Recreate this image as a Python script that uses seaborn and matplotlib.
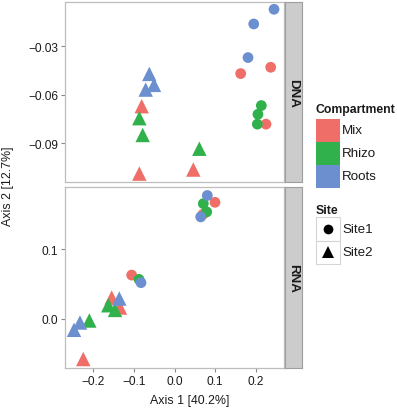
import pandas as pd
import matplotlib
matplotlib.use("Agg")
import matplotlib.pyplot as plt
import seaborn as sns
from matplotlib.patches import Rectangle

sns.set_theme(style="white")
plt.rcParams["font.family"] = ["Liberation Sans", "DejaVu Sans"]

# ---- data ----
compartments = ["Mix", "Rhizo", "Roots"]
colors = ["#EF6F68", "#30B14B", "#6B8FCF"]

dna_site = ["Site1"] * 9 + ["Site2"] * 9
dna_comp = (["Mix"] * 3 + ["Rhizo"] * 3 + ["Roots"] * 3) * 2
dna_ax1 = [0.1626, 0.2363, 0.2248, 0.2133, 0.2050, 0.2035, 0.2445, 0.1946, 0.1806,
           -0.0806, -0.0864, 0.0462, -0.0864, -0.0782, 0.0610, -0.0619, -0.0504, -0.0708]
dna_ax2 = [-0.0469, -0.0430, -0.0782, -0.0667, -0.0721, -0.0782, -0.0071, -0.0162, -0.0370,
           -0.0671, -0.1088, -0.1063, -0.0745, -0.0849, -0.0934, -0.0471, -0.0539, -0.0568]

rna_site = ["Site1"] * 9 + ["Site2"] * 9
rna_comp = (["Mix"] * 3 + ["Rhizo"] * 3 + ["Roots"] * 3) * 2
rna_ax1 = [0.0995, 0.0700, -0.1052, 0.0708, 0.0791, -0.0872, 0.0806, 0.0644, -0.0823,
           -0.1543, -0.1340, -0.2241, -0.1627, -0.1462, -0.2093, -0.1356, -0.2322, -0.2469]
rna_ax2 = [0.1683, 0.1510, 0.0629, 0.1664, 0.1544, 0.0567, 0.1782, 0.1472, 0.0519,
           0.0303, 0.0159, -0.0587, 0.0192, 0.0124, -0.0029, 0.0289, -0.0058, -0.0164]

x_ticks = [-0.2, -0.1, 0.0, 0.1, 0.2]
x_labels = ["\u22120.2", "\u22120.1", "0.0", "0.1", "0.2"]
dna_yticks = [-0.03, -0.06, -0.09]
dna_ylabels = ["\u22120.03", "\u22120.06", "\u22120.09"]
rna_yticks = [0.0, 0.1]
rna_ylabels = ["0.0", "0.1"]

dna = pd.DataFrame({"Axis1": dna_ax1, "Axis2": dna_ax2, "Site": dna_site, "Compartment": dna_comp})
rna = pd.DataFrame({"Axis1": rna_ax1, "Axis2": rna_ax2, "Site": rna_site, "Compartment": rna_comp})

W, H = 397, 410
fig = plt.figure(figsize=(W / 100, H / 100), dpi=100)

def px_rect(x0, y0, x1, y1):
    return [x0 / W, 1 - y1 / H, (x1 - x0) / W, (y1 - y0) / H]

palette = dict(zip(compartments, colors))
panels = [
    (dna, "DNA", (3, 183), (-0.114, -0.0026), dna_yticks, dna_ylabels),
    (rna, "RNA", (188, 369), (-0.0717, 0.1905), rna_yticks, rna_ylabels),
]
for i, (df, name, (y0, y1), ylim, yt, yl) in enumerate(panels):
    ax = fig.add_axes(px_rect(65, y0, 284, y1))
    sns.scatterplot(data=df, x="Axis1", y="Axis2", hue="Compartment", style="Site",
                    size="Site", sizes={"Site1": 60, "Site2": 108},
                    markers={"Site1": "o", "Site2": "^"}, palette=palette,
                    hue_order=compartments, linewidth=0, legend=False, ax=ax)
    ax.set_xlim(-0.269, 0.269)
    ax.set_ylim(*ylim)
    ax.set_yticks(yt)
    ax.set_yticklabels(yl)
    ax.set_xticks(x_ticks)
    if i == 1:
        ax.set_xticklabels(x_labels)
    else:
        ax.set_xticklabels([])
    ax.set_xlabel("")
    ax.set_ylabel("")
    for s in ax.spines.values():
        s.set_color("#BDBDBD")
        s.set_linewidth(0.9)
    ax.tick_params(axis="both", which="both", bottom=(i == 1), left=True, direction="out",
                   length=3, width=0.8, color="#888888", labelsize=8.6,
                   labelcolor="#1A1A1A", pad=1.8)

    st = fig.add_axes(px_rect(285, y0, 302, y1))
    st.set_facecolor("#CCCCCC")
    st.set_xticks([])
    st.set_yticks([])
    for s in st.spines.values():
        s.set_color("#9E9E9E")
        s.set_linewidth(0.8)
    st.text(0.5, 0.5, name, rotation=-90, ha="center", va="center",
            fontsize=9.6, fontweight="bold", color="#1A1A1A", transform=st.transAxes)

fig.text(190 / W, 1 - 401 / H, "Axis 1 [40.2%]", ha="center", va="center",
         fontsize=8.9, color="#1A1A1A")
fig.text(8 / W, 1 - 186 / H, "Axis 2 [12.7%]", ha="center", va="center",
         rotation=90, fontsize=8.9, color="#1A1A1A")

# ---- legends, laid out in pixel space ----
lg = fig.add_axes([0, 0, 1, 1])
lg.set_xlim(0, W)
lg.set_ylim(H, 0)
lg.axis("off")
lg.patch.set_visible(False)

lg.text(315.5, 109.5, "Compartment", ha="left", va="center", fontsize=8.8,
        fontweight="bold", color="#1A1A1A")
for k, (lab, col) in enumerate(zip(compartments, colors)):
    top = 120 + k * 23
    lg.add_patch(Rectangle((316, top), 23.5, 23, facecolor=col, edgecolor="none"))
    lg.text(342, top + 11.5, lab, ha="left", va="center", fontsize=9.6, color="#1A1A1A")

lg.text(315.5, 211.5, "Site", ha="left", va="center", fontsize=8.8,
        fontweight="bold", color="#1A1A1A")
for k, (lab, mk, ms) in enumerate([("Site1", "o", 7), ("Site2", "^", 9)]):
    top = 218 + k * 23.5
    lg.add_patch(Rectangle((316, top), 23.5, 23.5, facecolor="white",
                           edgecolor="#D5D5D5", linewidth=0.8))
    lg.plot([327.75], [top + 11.75], marker=mk, markersize=ms, color="black",
            markeredgewidth=0, linestyle="none")
    lg.text(342, top + 11.75, lab, ha="left", va="center", fontsize=9.6, color="#1A1A1A")

fig.savefig("out.png", dpi=100)
